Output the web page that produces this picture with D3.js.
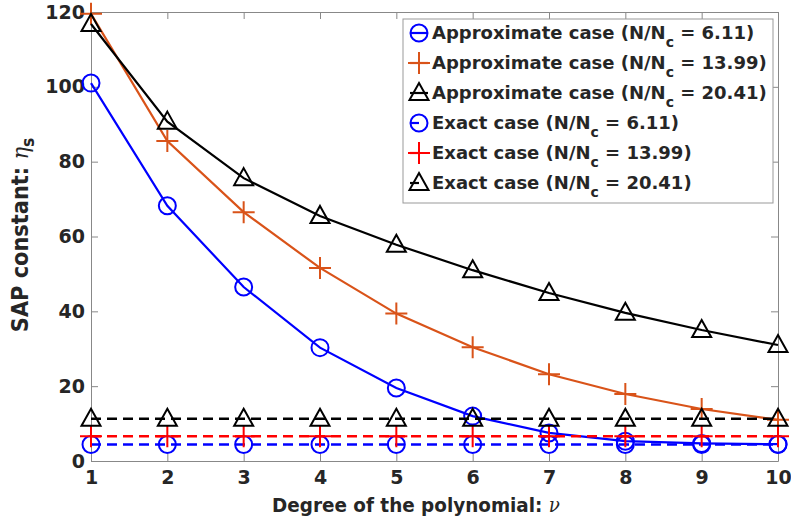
<!DOCTYPE html>
<html>
<head>
<meta charset="utf-8">
<script src="https://cdn.jsdelivr.net/npm/d3@7"></script>
<style>
  body { margin: 0; background: #fff; }
  svg text { font-family: "DejaVu Sans", sans-serif; font-weight: bold; fill: #262626; }
</style>
</head>
<body>
<script>
// polynomial degree
var degrees = [1, 2, 3, 4, 5, 6, 7, 8, 9, 10];

// approximate SAP constant
var approx611 = [101, 68.2, 46.5, 30.3, 19.5, 12, 7.5, 5.3, 4.7, 4.5];
var approx1399 = [119.5, 85.5, 66.5, 51.6, 39.4, 30.4, 23.2, 17.9, 13.9, 11];
var approx2041 = [116.8, 90.7, 75.6, 65.5, 57.8, 51, 44.9, 39.6, 35, 31];

// exact case: constant over degree
var exact611 = [4.4, 4.4, 4.4, 4.4, 4.4, 4.4, 4.4, 4.4, 4.4, 4.4];
var exact1399 = [6.6, 6.6, 6.6, 6.6, 6.6, 6.6, 6.6, 6.6, 6.6, 6.6];
var exact2041 = [11.3, 11.3, 11.3, 11.3, 11.3, 11.3, 11.3, 11.3, 11.3, 11.3];

var yTicks = [0, 20, 40, 60, 80, 100, 120];

var series = [
	{ label: 'Approximate case', ratio: '6.11', values: approx611, color: '#0000ff', marker: 'circle', dash: null },
	{ label: 'Approximate case', ratio: '13.99', values: approx1399, color: '#d95319', marker: 'plus', dash: null },
	{ label: 'Approximate case', ratio: '20.41', values: approx2041, color: '#000000', marker: 'triangle', dash: null },
	{ label: 'Exact case', ratio: '6.11', values: exact611, color: '#0000ff', marker: 'circle', dash: '10,6' },
	{ label: 'Exact case', ratio: '13.99', values: exact1399, color: '#ff0000', marker: 'plus', dash: '10,6' },
	{ label: 'Exact case', ratio: '20.41', values: exact2041, color: '#000000', marker: 'triangle', dash: '10,6' }
];

var margin = { top: 12, right: 13, bottom: 59, left: 91 };
var width = 791 - margin.left - margin.right;
var height = 520 - margin.top - margin.bottom;

var svg = d3.select('body')
	.append('svg')
		.attr('width', 791)
		.attr('height', 520)
	.append('g')
		.attr('transform', 'translate(' + margin.left + ',' + margin.top + ')');

var x = d3.scaleLinear().domain([1, 10]).range([0, width]);
var y = d3.scaleLinear().domain([0, 120]).range([height, 0]);

// axes box with inward ticks
function styleAxis(g) {
	g.selectAll('path').attr('stroke', '#888');
	g.selectAll('line').attr('stroke', '#888');
	g.selectAll('text').style('font-size', '19px');
}

svg.append('g')
	.attr('transform', 'translate(0,' + height + ')')
	.call(d3.axisBottom(x).tickValues(degrees).tickFormat(d3.format('d')).tickSize(-7).tickSizeOuter(0).tickPadding(10))
	.call(styleAxis);

svg.append('g')
	.call(d3.axisLeft(y).tickValues(yTicks).tickSize(-7).tickSizeOuter(0).tickPadding(6))
	.call(styleAxis);

svg.append('g')
	.call(d3.axisTop(x).tickValues(degrees).tickFormat('').tickSize(-7).tickSizeOuter(0))
	.call(styleAxis);

svg.append('g')
	.attr('transform', 'translate(' + width + ',0)')
	.call(d3.axisRight(y).tickValues(yTicks).tickFormat('').tickSize(-7).tickSizeOuter(0))
	.call(styleAxis);

// markers
function drawMarker(g, type, color, cx, cy) {
	if (type === 'circle') {
		g.append('circle').attr('cx', cx).attr('cy', cy).attr('r', 8.5)
			.attr('fill', 'none').attr('stroke', color).attr('stroke-width', 2);
	} else if (type === 'plus') {
		g.append('path')
			.attr('d', 'M' + (cx - 11) + ',' + cy + 'H' + (cx + 11) + 'M' + cx + ',' + (cy - 11) + 'V' + (cy + 11))
			.attr('stroke', color).attr('stroke-width', 2);
	} else {
		g.append('path')
			.attr('d', 'M' + cx + ',' + (cy - 10) + 'L' + (cx + 9.5) + ',' + (cy + 7) + 'L' + (cx - 9.5) + ',' + (cy + 7) + 'Z')
			.attr('fill', 'none').attr('stroke', color).attr('stroke-width', 2);
	}
}

var line = d3.line()
	.x(function(d, i) { return x(degrees[i]); })
	.y(function(d) { return y(d); });

series.forEach(function(s) {
	var g = svg.append('g');
	g.append('path')
		.datum(s.values)
		.attr('d', line)
		.attr('fill', 'none')
		.attr('stroke', s.color)
		.attr('stroke-width', s.dash ? 2.6 : 2.2)
		.attr('stroke-dasharray', s.dash);
	s.values.forEach(function(v, i) {
		drawMarker(g, s.marker, s.color, x(degrees[i]), y(v));
	});
});

// legend
var legend = svg.append('g').attr('transform', 'translate(312,7)');
legend.append('rect')
	.attr('width', 370)
	.attr('height', 184)
	.attr('fill', '#fff')
	.attr('stroke', '#999')
	.attr('stroke-width', 1);

series.forEach(function(s, i) {
	var row = legend.append('g').attr('transform', 'translate(0,' + (14 + i * 30) + ')');
	row.append('path')
		.attr('d', 'M7,0H25')
		.attr('stroke', s.color)
		.attr('stroke-width', 2.2)
		.attr('stroke-dasharray', s.dash ? '9,9' : null);
	drawMarker(row, s.marker, s.color, 16, 0);
	var t = row.append('text')
		.attr('x', 29)
		.attr('y', 6)
		.style('font-size', '18px');
	t.append('tspan').text(s.label + ' (N/N');
	t.append('tspan').attr('dy', 8).style('font-size', '14px').text('c');
	t.append('tspan').attr('dy', -8).text(' = ' + s.ratio + ')');
});

// axis labels (narrow bold face, as in the original)
var xl = svg.append('g')
	.attr('transform', 'translate(' + (416 - margin.left) + ',' + (512 - margin.top) + ') scale(0.92,1)')
	.append('text')
	.attr('text-anchor', 'middle')
	.style('font-size', '20px');
xl.append('tspan').text('Degree of the polynomial: ');
xl.append('tspan').style('font-family', '"DejaVu Serif", serif').style('font-style', 'italic').style('font-weight', 'normal').text('ν');

var yl = svg.append('g')
	.attr('transform', 'translate(' + (28 - margin.left) + ',' + (235 - margin.top) + ') rotate(-90) scale(0.91,1)')
	.append('text')
	.attr('text-anchor', 'middle')
	.style('font-size', '23px');
yl.append('tspan').text('SAP constant: ');
yl.append('tspan').style('font-family', '"DejaVu Serif", serif').style('font-style', 'italic').style('font-weight', 'normal').text('η');
yl.append('tspan').attr('dy', 6).style('font-size', '17px').text('s');
</script>
</body>
</html>
